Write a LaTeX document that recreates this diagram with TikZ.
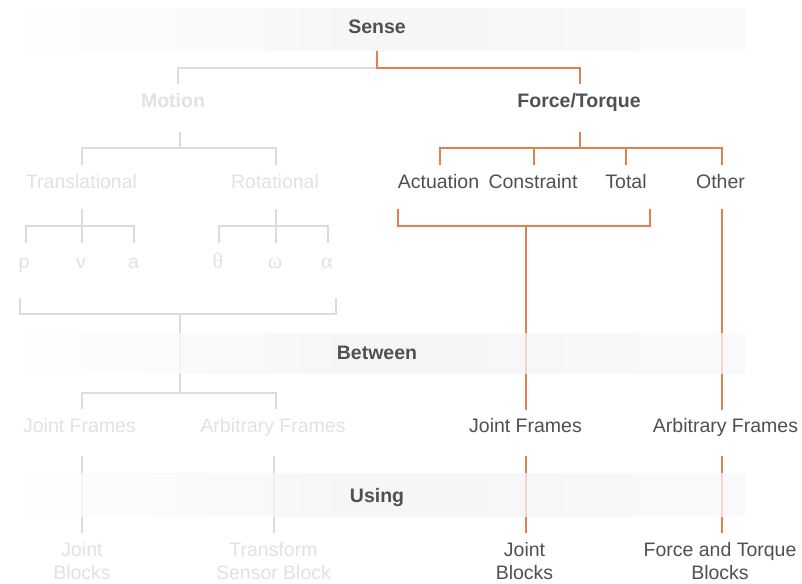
\documentclass[tikz,border=0pt]{standalone}
\usepackage{fontspec}
\setmainfont{Liberation Sans}
\newfontfamily\greekfont{Liberation Serif}
\definecolor{orng}{HTML}{E2804F}
\definecolor{lgline}{HTML}{DCDCDC}
\definecolor{lgtext}{HTML}{E2E2E2}
\definecolor{dktext}{HTML}{505050}
\definecolor{bandmid}{HTML}{F3F3F3}
\definecolor{bandend}{HTML}{F8F8F8}
\tikzset{
  lbl/.style={anchor=base, inner sep=0pt, font=\fontsize{19.5}{23}\selectfont},
  dk/.style={lbl, text=dktext},
  lt/.style={lbl, text=lgtext},
  bdk/.style={dk, font=\fontsize{19.5}{23}\selectfont\bfseries},
  blt/.style={lt, font=\fontsize{19.5}{23}\selectfont\bfseries},
  grk/.style={lt, font=\fontsize{22}{23}\selectfont\greekfont},
  oline/.style={draw=orng, line width=2pt},
  gline/.style={draw=lgline, line width=2pt}
}
\begin{document}
\begin{tikzpicture}[x=1pt,y=-1pt]
\useasboundingbox (0,0) rectangle (802,583);
\fill[white] (0,0) rectangle (802,583);
% coordinates
\coordinate (s0) at (377,51);
\coordinate (s1) at (377,68);
\coordinate (sm) at (178,68);
\coordinate (sf) at (580,68);
\coordinate (mt) at (178,84);
\coordinate (ft) at (580,84);
% gray tree
\draw[gline] (s1) -- (sm) -- (mt);
\draw[gline] (180,132) -- (180,148);
\draw[gline] (82,165) -- (82,148) -- (276,148) -- (276,165);
\draw[gline] (82,209) -- (82,226);
\draw[gline] (26,243) -- (26,226) -- (134,226) -- (134,243);
\draw[gline] (82,226) -- (82,243);
\draw[gline] (276,209) -- (276,226);
\draw[gline] (219,243) -- (219,226) -- (328,226) -- (328,243);
\draw[gline] (276,226) -- (276,243);
\draw[gline] (20,298) -- (20,314) -- (336,314) -- (336,298);
\draw[gline] (180,314) -- (180,393);
\draw[gline] (82,409) -- (82,393) -- (276,393) -- (276,409);
\draw[gline] (82,456) -- (82,533);
\draw[gline] (274,456) -- (274,533);
% orange tree
\draw[oline] (s0) -- (s1) -- (sf) -- (ft);
\draw[oline] (580,132) -- (580,148);
\draw[oline] (440,165) -- (440,148) -- (722,148) -- (722,165);
\draw[oline] (534,148) -- (534,165);
\draw[oline] (626,148) -- (626,165);
\draw[oline] (398,209) -- (398,226) -- (650,226) -- (650,209);
\draw[oline] (526,226) -- (526,410);
\draw[oline] (722,209) -- (722,410);
\draw[oline] (526,456) -- (526,533);
\draw[oline] (722,456) -- (722,533);
% bands (translucent, over lines)
\foreach \ya/\yb in {9/51, 333/373, 473/516}{
  \shade[left color=white, right color=bandmid, fill opacity=0.75] (8,\ya) rectangle (377,\yb);
  \shade[left color=bandmid, right color=bandend, fill opacity=0.75] (377,\ya) rectangle (745,\yb);
}
% band labels
\node[bdk] (sense) at (377,34) {Sense};
\node[bdk] (between) at (377,359) {Between};
\node[bdk] (using) at (377,502) {Using};
% level 2
\node[blt] (motion) at (173,108) {Motion};
\node[bdk] (force) at (579,108) {Force/Torque};
% level 3
\node[lt] (trans) at (81.5,188) {Translational};
\node[lt] (rot) at (275,188) {Rotational};
\node[dk] (act) at (438.5,188) {Actuation};
\node[dk] (con) at (533,188) {Constraint};
\node[dk] (tot) at (626,188) {Total};
\node[dk] (oth) at (720.5,188) {Other};
% level 4
\node[lt] (p) at (24,268) {p};
\node[lt] (v) at (81,268) {v};
\node[lt] (a) at (133.5,268) {a};
\node[grk] (th) at (218,268) {θ};
\node[grk] (om) at (275,268) {ω};
\node[grk] (al) at (327,268) {α};
% frames
\node[lt] (jf1) at (79.5,432) {Joint Frames};
\node[lt] (af1) at (273,432) {Arbitrary Frames};
\node[dk] (jf2) at (525.5,432) {Joint Frames};
\node[dk] (af2) at (725.5,432) {Arbitrary Frames};
% blocks
\node[lt] (jb1a) at (82,556) {Joint};
\node[lt] (jb1b) at (82,579) {Blocks};
\node[lt] (ts1) at (273.5,556) {Transform};
\node[lt] (ts2) at (273.5,579) {Sensor Block};
\node[dk] (jb2a) at (524.5,556) {Joint};
\node[dk] (jb2b) at (524.5,579) {Blocks};
\node[dk] (ft1) at (720,556) {Force and Torque};
\node[dk] (ft2) at (720,579) {Blocks};
\end{tikzpicture}
\end{document}
